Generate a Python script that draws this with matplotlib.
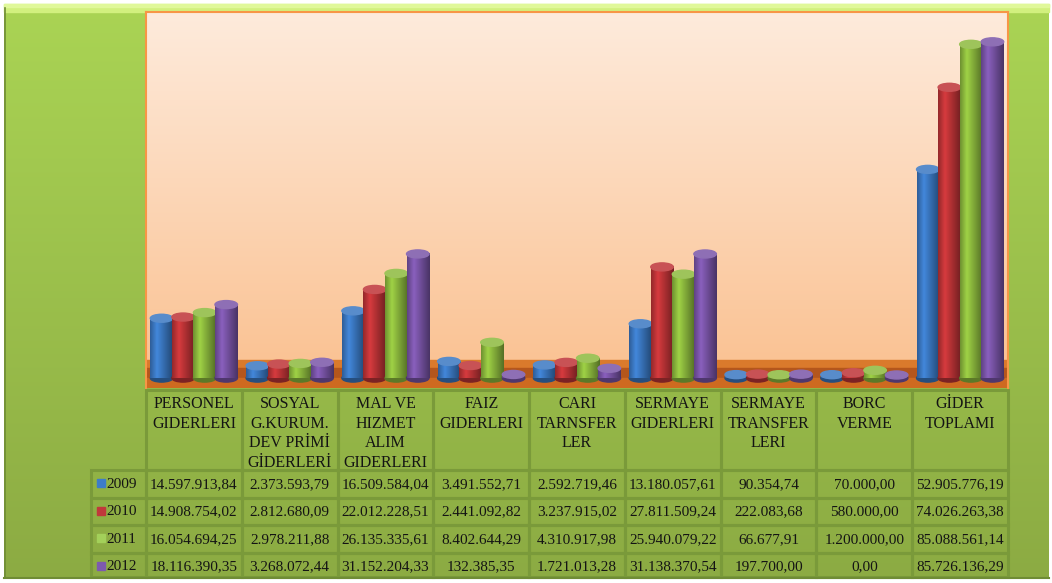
import numpy as np
import matplotlib
matplotlib.use('Agg')
import matplotlib.pyplot as plt
from matplotlib.patches import Rectangle, Ellipse
from matplotlib.colors import to_rgb

# Veriler
categories = ["PERSONEL\nGIDERLERI", "SOSYAL\nG.KURUM.\nDEV PRİMİ\nGİDERLERİ",
              "MAL VE\nHIZMET\nALIM\nGIDERLERI", "FAIZ\nGIDERLERI",
              "CARI\nTARNSFER\nLER", "SERMAYE\nGIDERLERI",
              "SERMAYE\nTRANSFER\nLERI", "BORC\nVERME", "GİDER\nTOPLAMI"]
years = ["2009", "2010", "2011", "2012"]
v2009 = [14597913.84, 2373593.79, 16509584.04, 3491552.71, 2592719.46,
         13180057.61, 90354.74, 70000.00, 52905776.19]
v2010 = [14908754.02, 2812680.09, 22012228.51, 2441092.82, 3237915.02,
         27811509.24, 222083.68, 580000.00, 74026263.38]
v2011 = [16054694.25, 2978211.88, 26135335.61, 8402644.29, 4310917.98,
         25940079.22, 66677.91, 1200000.00, 85088561.14]
v2012 = [18116390.35, 3268072.44, 31152204.33, 132385.35, 1721013.28,
         31138370.54, 197700.00, 0.00, 85726136.29]
series = [v2009, v2010, v2011, v2012]
colors = ["#3B78C2", "#BE3437", "#8DBA3E", "#7A55A8"]
swatch_colors = ["#3D7CC9", "#C0393B", "#A3D05A", "#7D5AAE"]

W, H = 1052, 583


def tr_fmt(v):
    s = f"{v:,.2f}"
    return s.replace(",", "X").replace(".", ",").replace("X", ".")


def px_axes(x0, y0, x1, y1):
    return fig.add_axes([x0 / W, 1 - y1 / H, (x1 - x0) / W, (y1 - y0) / H])


def vgrad(top, bottom, n=256):
    t = np.linspace(0, 1, n)[:, None]
    return (1 - t) * np.array(to_rgb(top)) + t * np.array(to_rgb(bottom))


fig = plt.figure(figsize=(W / 100, H / 100), dpi=100, facecolor="white")

# arka plan (yeşil çerçeve)
bg = fig.add_axes([0, 0, 1, 1])
bg.set_xlim(0, W)
bg.set_ylim(H, 0)
bg.axis("off")
bg.imshow(vgrad("#AAD454", "#8CAB43")[:, None, :], extent=(4, 1049, 578, 4),
          aspect="auto", interpolation="bilinear", zorder=0)
bg.add_patch(Rectangle((4, 4), 1045, 8, color="#D2F07E", zorder=1))
bg.add_patch(Rectangle((4, 4), 1045, 3, color="#E0F89A", zorder=1))
bg.plot([4.5, 4.5], [8, 578], color="#6F8C35", lw=1.2, zorder=2)
bg.plot([4, 1049], [577.5, 577.5], color="#6F8C35", lw=1.5, zorder=5)
bg.set_xlim(0, W)
bg.set_ylim(H, 0)

# ana grafik
ax = px_axes(146, 12, 1008, 388)
ymin, ymax = -3.35, 93.4
ax.imshow(vgrad("#FEEBDC", "#FAC08F")[:, None, :], extent=(-0.5, 8.5, ymin, ymax),
          aspect="auto", interpolation="bilinear", zorder=0)
# zemin
ax.axhspan(1.80, 3.86, color="#DA7A2C", zorder=1)
ax.axhspan(-0.77, 1.80, color="#B4561C", zorder=1)
ax.axhspan(ymin, -0.77, color="#CE6A20", zorder=1)

bw = 0.225
ew = 0.235
eh = 2.06
base = -0.8
prof_t = np.linspace(0, 1, 64)
prof = np.interp(prof_t, [0, 0.3, 1], [0.78, 1.13, 0.6])
for j, vals in enumerate(series):
    c = np.array(to_rgb(colors[j]))
    grad = np.clip(c[None, :] * prof[:, None], 0, 1)[None, :, :]
    top_c = np.clip(c * 0.85 + 0.15, 0, 1)
    z = 3 + 2 * j
    for i, v in enumerate(vals):
        x = i + (j - 1.5) * bw
        h = v / 1e6
        ax.add_patch(Ellipse((x, base), ew, eh, color=c * 0.65, zorder=z - 0.5))
        ax.imshow(grad, extent=(x - ew / 2, x + ew / 2, base, h), aspect="auto",
                  interpolation="bilinear", zorder=z)
        ax.add_patch(Ellipse((x, h), ew, eh, color=top_c, zorder=z + 0.5))

ax.set_xlim(-0.5, 8.5)
ax.set_ylim(ymin, ymax)
ax.set_xticks([])
ax.set_yticks([])
for side in ["left", "top", "right"]:
    ax.spines[side].set_color("#F79646")
    ax.spines[side].set_linewidth(1.5)
ax.spines["bottom"].set_visible(False)

# veri tablosu
col_x0, col_x1 = 146, 1008
col_w = (col_x1 - col_x0) / len(categories)
grid_c = "#7A9A3A"
serif = ["Liberation Serif", "DejaVu Serif"]
head_font = dict(family=serif, size=11.5, color="#141414")
font = dict(family=serif, size=11, color="#141414")
head_top, head_bot = 390, 470
row_h = 27.5
bottom_lim = 577
for i, cat in enumerate(categories):
    left = col_x0 + i * col_w
    bg.add_patch(Rectangle((left, head_top), col_w, head_bot - head_top, fill=False,
                           ec=grid_c, lw=2.2, zorder=3))
    bg.text(left + col_w / 2, head_top + 6, cat, ha="center", va="top",
            linespacing=1.3, zorder=4, **head_font)
for j, vals in enumerate(series):
    top = head_bot + j * row_h
    rh = min(row_h, bottom_lim - top)
    mid = top + row_h / 2
    bg.add_patch(Rectangle((91, top), col_x0 - 91, rh, fill=False,
                           ec=grid_c, lw=2.2, zorder=3))
    bg.add_patch(Rectangle((97, mid - 4.5), 8, 8, color=swatch_colors[j], zorder=4))
    bg.text(106, mid + 0.5, years[j], ha="left", va="center", zorder=4, **font)
    for i, v in enumerate(vals):
        left = col_x0 + i * col_w
        bg.add_patch(Rectangle((left, top), col_w, rh, fill=False,
                               ec=grid_c, lw=2.2, zorder=3))
        bg.text(left + col_w / 2, mid + 0.5, tr_fmt(v), ha="center", va="center",
                zorder=4, **font)

fig.savefig("out.png", dpi=100, facecolor="white")
